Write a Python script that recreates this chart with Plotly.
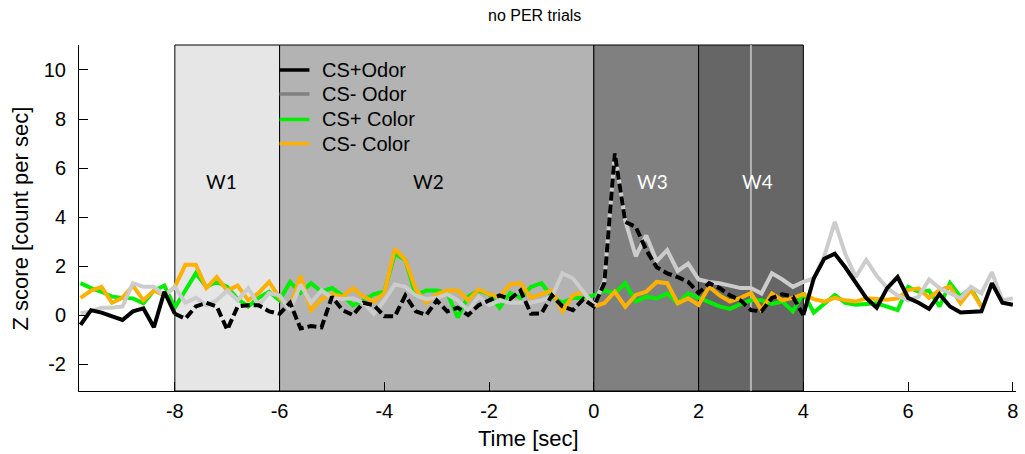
import plotly.graph_objects as go

# ---------------- data ----------------
T0, DT = -9.8, 0.2

cs_plus_odor = [-0.4, 0.2, 0.1, -0.05, -0.2, 0.15, 0.27, -0.5, 0.95, 0.05,
                -0.15, 0.35, 0.5, 0.35, -0.6, 0.35, 0.4, 0.4, 0.15, 0.05,
                0.5, -0.55, -0.45, -0.5, 0.75, 0.2, 0.0, 0.5, 0.4, -0.05,
                -0.05, 0.8, 0.15, 0.0, 0.6, 0.15, 0.3, 0.0, 0.4, 0.6,
                0.8, 0.65, 1.0, 0.05, 0.07, 0.8, 0.35, 0.2, 0.65, 0.35,
                1.3, 6.6, 3.8, 3.6, 2.65, 1.95, 1.7, 1.55, 1.35, 0.9,
                1.3, 1.1, 0.8, 0.6, 0.2, 0.15, 0.7, 0.85, 0.75, 0.0,
                1.5, 2.3, 2.5, 1.95, 1.35, 0.7, 0.3, 1.1, 1.55, 0.7,
                0.5, 0.25, 0.85, 0.35, 0.1, 0.12, 0.15, 1.3, 0.5, 0.42]

cs_minus_odor = [0.07, 0.15, 0.3, 0.3, 0.35, 1.3, 1.15, 1.15, 0.8, 1.15,
                 0.5, 0.7, 0.4, 0.6, 1.0, 0.6, 1.1, 0.4, 0.9, 0.8,
                 0.2, 1.25, 0.5, 1.0, 0.7, 0.65, 0.68, 0.5, 0.05, 0.6,
                 1.25, 1.15, 0.8, 0.65, 0.7, 0.85, 0.6, 0.2, 0.75, 0.4,
                 0.6, 0.5, 0.5, 0.5, 0.6, 0.75, 1.7, 1.5, 0.95, 0.4,
                 1.4, 6.6, 3.85, 2.4, 3.25, 2.2, 2.65, 1.8, 2.1, 1.45,
                 1.35, 1.3, 1.2, 1.1, 1.1, 0.88, 1.7, 1.45, 1.15, 1.35,
                 1.5, 2.4, 3.8, 2.5, 1.55, 2.25, 1.6, 1.1, 0.8, 0.6,
                 0.75, 1.45, 1.1, 0.9, 0.68, 1.15, 0.88, 1.75, 0.6, 0.68]

cs_plus_color = [1.3, 1.1, 0.95, 0.75, 0.7, 0.68, 0.48, 1.0, 1.2, 0.3,
                 1.0, 1.7, 1.15, 1.35, 1.15, 0.65, 0.35, 0.7, 0.95, 0.6,
                 1.35, 0.9, 1.3, 0.95, 1.1, 0.8, 0.4, 0.6, 0.85, 0.95,
                 2.5, 2.25, 0.8, 1.0, 1.0, 0.9, -0.1, 0.75, 1.0, 0.85,
                 0.3, 0.9, 0.7, 1.15, 1.3, 0.75, 0.5, 0.7, 0.7, 0.8,
                 1.0, 0.9, 1.3, 0.55, 0.75, 0.68, 0.88, 0.48, 0.88, 0.7,
                 0.5, 0.35, 0.25, 0.45, 0.6, 0.6, 0.45, 0.55, 0.15, 0.9,
                 0.1, 0.45, 0.82, 0.5, 0.42, 0.45, 0.48, 0.34, 0.2, 1.15,
                 0.95, 1.0, 0.35, 1.3, 0.75, 1.1, 0.34]

cs_minus_color = [0.7, 1.0, 1.15, 0.5, 0.7, 1.2, 0.6, 1.0, 0.8, 1.15,
                  2.05, 2.05, 1.1, 1.55, 1.0, 1.2, 0.6, 0.9, 1.35, 0.7,
                  0.3, 1.6, 0.2, 0.65, 0.85, 0.75, 1.1, 0.75, 0.55, 0.9,
                  2.7, 2.25, 1.05, 0.5, 0.85, 1.0, 1.0, 0.6, 1.05, 0.85,
                  0.75, 1.25, 1.3, 0.7, 0.85, 1.0, 0.15, 0.8, 0.95, 0.35,
                  0.48, 0.95, 0.34, 0.82, 0.95, 1.35, 1.3, 0.48, 0.68, 0.41,
                  1.16, 0.8, 0.55, 0.7, 0.9, 0.2, 0.88, 0.6, 0.7, 0.85,
                  0.65, 0.55, 0.7, 0.6, 0.55, 0.68, 0.65, 0.62, 0.68, 1.02,
                  1.09, 0.7, 1.02, 1.16, 0.48, 1.02, 0.34]

series_names = ["CS+Odor", "CS- Odor", "CS+ Color", "CS- Color"]
legend_colors = ["#000000", "#808080", "#00ee00", "#ffb000"]

windows = [(-8, -6), (-6, 0), (0, 2), (2, 4)]
window_labels = ["W1", "W2", "W3", "W4"]
window_label_x = [-7.1, -3.15, 1.12, 3.12]

x_ticks = [-8, -6, -4, -2, 0, 2, 4, 6, 8]
y_ticks = [-2, 0, 2, 4, 6, 8, 10]


def times(vals):
    return [round(T0 + DT * i, 2) for i in range(len(vals))]


LW = 4

fig = go.Figure()

# green, orange, gray, black
fig.add_trace(go.Scatter(x=times(cs_plus_color), y=cs_plus_color, mode="lines",
                         line=dict(color="#00ee00", width=LW), showlegend=False))
fig.add_trace(go.Scatter(x=times(cs_minus_color), y=cs_minus_color, mode="lines",
                         line=dict(color="#ffb000", width=LW), showlegend=False))
fig.add_trace(go.Scatter(x=times(cs_minus_odor), y=cs_minus_odor, mode="lines",
                         line=dict(color="#cccccc", width=LW), showlegend=False))

tb = times(cs_plus_odor)
solid_y = [v if (t <= -8 or t >= 4) else None for t, v in zip(tb, cs_plus_odor)]
dash_y = [v if (-8 <= t <= 4) else None for t, v in zip(tb, cs_plus_odor)]
fig.add_trace(go.Scatter(x=tb, y=solid_y, mode="lines", connectgaps=False,
                         line=dict(color="#000000", width=LW), showlegend=False))
fig.add_trace(go.Scatter(x=tb, y=dash_y, mode="lines", connectgaps=False,
                         line=dict(color="#000000", width=LW, dash="9px,4px"),
                         showlegend=False))

# window shading
fills = ["#e6e6e6", "#b3b3b3", "#808080", "#666666"]
for (a, b), fc in zip(windows, fills):
    fig.add_shape(type="rect", xref="x", yref="paper", x0=a, x1=b, y0=0, y1=1,
                  fillcolor=fc, line=dict(color="#000000", width=1), layer="below")
fig.add_shape(type="line", xref="x", yref="paper", x0=3, x1=3, y0=0, y1=1,
              line=dict(color="#ffffff", width=1), layer="below")

for lab, lx, col in zip(window_labels, window_label_x,
                        ["#000000", "#000000", "#ffffff", "#ffffff"]):
    fig.add_annotation(x=lx, y=5.45, text=lab, showarrow=False,
                       font=dict(family="Lato", size=19, color=col))

# manual legend
leg_y = [10.0, 9.02, 7.98, 7.0]
for name, col, ly in zip(series_names, legend_colors, leg_y):
    fig.add_shape(type="line", xref="x", yref="y", x0=-6.0, x1=-5.43, y0=ly, y1=ly,
                  line=dict(color=col, width=3.5))
    fig.add_annotation(x=-5.22, y=ly, text=name, showarrow=False, xanchor="left",
                       font=dict(family="Liberation Sans", size=20, color="#000000"))

# titles
fig.add_annotation(xref="paper", yref="paper", x=0.486, y=1, yshift=30,
                   yanchor="middle", text="no PER trials", showarrow=False,
                   font=dict(family="Liberation Sans", size=16, color="#000000"))
fig.add_annotation(xref="paper", yref="paper", x=0.48, y=0, yshift=-47,
                   yanchor="middle", text="Time [sec]", showarrow=False,
                   font=dict(family="Liberation Sans", size=22, color="#000000"))
fig.add_annotation(xref="paper", yref="paper", x=-0.0625, y=0.5, textangle=-90,
                   xanchor="center", yanchor="middle",
                   text="Z score [count per sec]", showarrow=False,
                   font=dict(family="Liberation Sans", size=22, color="#000000"))

fig.update_layout(
    width=1025, height=454,
    margin=dict(l=79, r=7, t=45, b=63),
    paper_bgcolor="#ffffff", plot_bgcolor="#ffffff",
    font=dict(family="Liberation Sans", size=19, color="#000000"),
    showlegend=False,
)
fig.update_xaxes(range=[-9.83, 8.06], tickvals=x_ticks, ticktext=[str(v) for v in x_ticks],
                 ticks="inside", ticklen=9, tickcolor="#000000", showgrid=False,
                 zeroline=False, showline=True, linecolor="#000000", linewidth=1,
                 ticklabelstandoff=2, tickfont=dict(size=20))
fig.update_yaxes(range=[-3.1, 11.02], tickvals=y_ticks, ticktext=[str(v) for v in y_ticks],
                 ticks="inside", ticklen=9, tickcolor="#000000", showgrid=False,
                 zeroline=False, showline=True, linecolor="#000000", linewidth=1,
                 ticklabelstandoff=8, tickfont=dict(size=20))

fig.write_html("out.html")
